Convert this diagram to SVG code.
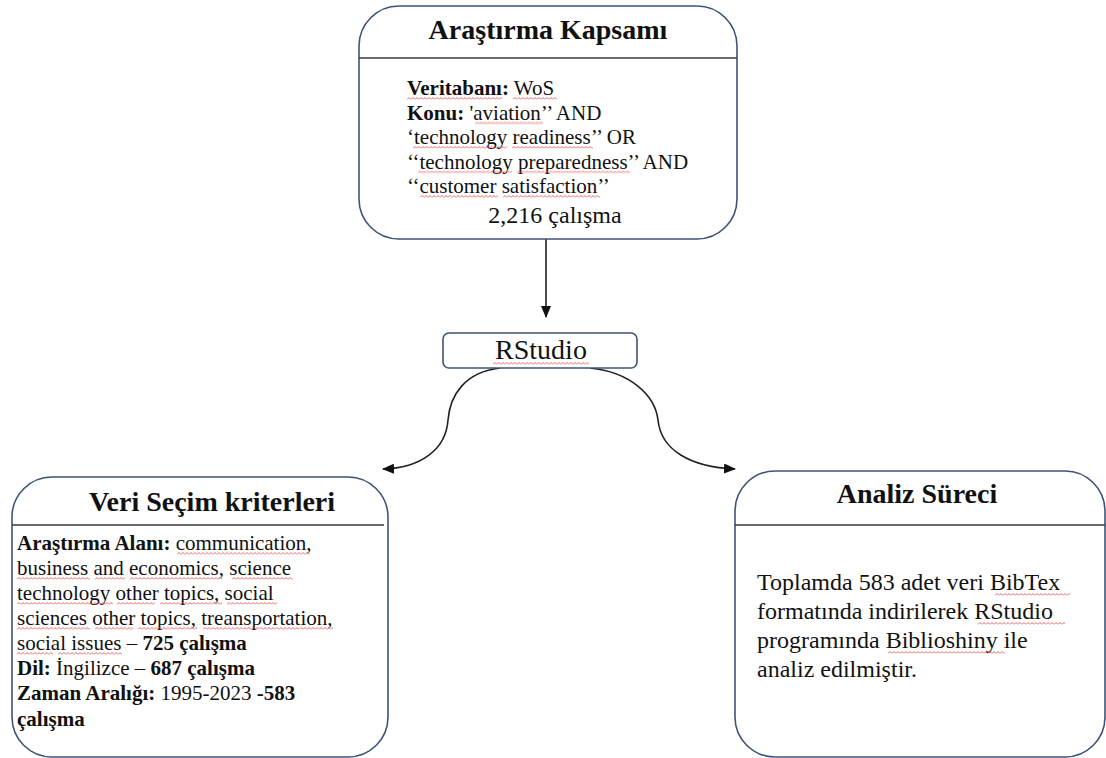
<svg xmlns="http://www.w3.org/2000/svg" width="1106" height="758" viewBox="0 0 1106 758">
<style>
  .box{fill:#fff;stroke:#3d5478;stroke-width:1.6}
  .div{stroke:#3a3a3a;stroke-width:1.6}
  .title{font-family:"Liberation Serif","Times New Roman",serif;font-weight:bold;font-size:28px;fill:#111;text-anchor:middle}
  .t21{font-family:"Liberation Serif","Times New Roman",serif;font-size:21px;fill:#111}
  .t24{font-family:"Liberation Serif","Times New Roman",serif;font-size:24px;fill:#111}
  .b{font-weight:bold}
  .con{fill:none;stroke:#222;stroke-width:1.6}
  .sq{fill:url(#wave)}
</style>
<defs>
  <marker id="ah" markerUnits="userSpaceOnUse" markerWidth="12" markerHeight="10" refX="11" refY="5" orient="auto">
    <path d="M0,0 L12,5 L0,10 Z" fill="#111"/>
  </marker>
  <pattern id="wave" patternUnits="userSpaceOnUse" width="4" height="3">
    <path d="M0,2.5 L2,0.5 L4,2.5" fill="none" stroke="#e23b3b" stroke-width="0.8"/>
  </pattern>
</defs>

<g id="connectors">
  <path class="con" d="M546,239 L546,317" marker-end="url(#ah)"/>
  <path class="con" d="M500,368 C465,372 450,395 448,420 C446,450 420,468 383,469" marker-end="url(#ah)"/>
  <path class="con" d="M590,368 C630,372 655,395 658,420 C661,450 690,467 735,469" marker-end="url(#ah)"/>
</g>

<g id="arastirma-kapsami">
  <rect class="box" x="359" y="6" width="378" height="233" rx="40" ry="40"/>
  <line class="div" x1="359" y1="58" x2="737" y2="58"/>
  <text class="title" x="548" y="39">Araştırma Kapsamı</text>
  <text class="t21" x="407" y="95"><tspan class="b">Veritabanı:</tspan> WoS</text>
  <text class="t21" x="407" y="119.5"><tspan class="b">Konu:</tspan> 'aviation’’ AND</text>
  <text class="t21" x="407" y="144">‘technology readiness’’ OR</text>
  <text class="t21" x="407" y="168.5">‘‘technology preparedness’’ AND</text>
  <text class="t21" x="407" y="193">‘‘customer satisfaction’’</text>
  <text class="t24" x="555" y="223" text-anchor="middle">2,216 çalışma</text>
</g>

<g id="rstudio">
  <rect class="box" x="443" y="333" width="194" height="35" rx="6" ry="6"/>
  <text class="t24" x="541" y="359" text-anchor="middle" style="font-size:28px">RStudio</text>
</g>

<g id="veri-secim-kriterleri">
  <rect class="box" x="12" y="477" width="376" height="280" rx="40" ry="40"/>
  <line class="div" x1="12" y1="525" x2="384" y2="525"/>
  <text class="title" x="212" y="511">Veri Seçim kriterleri</text>
  <text class="t21" x="17" y="550"><tspan class="b">Araştırma Alanı:</tspan> communication,</text>
  <text class="t21" x="17" y="575">business and economics, science</text>
  <text class="t21" x="17" y="600">technology other topics, social</text>
  <text class="t21" x="17" y="625">sciences other topics, treansportation,</text>
  <text class="t21" x="17" y="650">social issues – <tspan class="b">725 çalışma</tspan></text>
  <text class="t21" x="17" y="675"><tspan class="b">Dil:</tspan> İngilizce – <tspan class="b">687 çalışma</tspan></text>
  <text class="t21" x="17" y="700"><tspan class="b">Zaman Aralığı:</tspan> 1995-2023 <tspan class="b">-583</tspan></text>
  <text class="t21" x="17" y="726"><tspan class="b">çalışma</tspan></text>
</g>

<g id="analiz-sureci">
  <rect class="box" x="735" y="471" width="370" height="286" rx="40" ry="40"/>
  <line class="div" x1="735" y1="525" x2="1105" y2="525"/>
  <text class="title" x="917" y="503">Analiz Süreci</text>
  <text class="t24" x="757" y="590">Toplamda 583 adet veri BibTex</text>
  <text class="t24" x="757" y="619">formatında indirilerek RStudio</text>
  <text class="t24" x="757" y="648">programında Biblioshiny ile</text>
  <text class="t24" x="757" y="677">analiz edilmiştir.</text>
</g>

<g id="spellcheck-marks">
  <rect class="sq" width="95" height="3" transform="translate(407,97)"/>
  <rect class="sq" width="44" height="3" transform="translate(513,97)"/>
  <rect class="sq" width="68" height="3" transform="translate(475,121.5)"/>
  <rect class="sq" width="94" height="3" transform="translate(413,146)"/>
  <rect class="sq" width="81" height="3" transform="translate(512,146)"/>
  <rect class="sq" width="94" height="3" transform="translate(418,170.5)"/>
  <rect class="sq" width="113" height="3" transform="translate(517,170.5)"/>
  <rect class="sq" width="78" height="3" transform="translate(420,195)"/>
  <rect class="sq" width="97" height="3" transform="translate(503,195)"/>
  <rect class="sq" width="96" height="3" transform="translate(493,362)"/>
  <rect class="sq" width="133" height="3" transform="translate(177,552)"/>
  <rect class="sq" width="73" height="3" transform="translate(17,577)"/>
  <rect class="sq" width="30" height="3" transform="translate(95,577)"/>
  <rect class="sq" width="92" height="3" transform="translate(130,577)"/>
  <rect class="sq" width="61" height="3" transform="translate(232,577)"/>
  <rect class="sq" width="96" height="3" transform="translate(17,602)"/>
  <rect class="sq" width="38" height="3" transform="translate(117,602)"/>
  <rect class="sq" width="62" height="3" transform="translate(160,602)"/>
  <rect class="sq" width="50" height="3" transform="translate(227,602)"/>
  <rect class="sq" width="73" height="3" transform="translate(17,627)"/>
  <rect class="sq" width="38" height="3" transform="translate(95,627)"/>
  <rect class="sq" width="59" height="3" transform="translate(138,627)"/>
  <rect class="sq" width="130" height="3" transform="translate(203,627)"/>
  <rect class="sq" width="36" height="3" transform="translate(17,652)"/>
  <rect class="sq" width="64" height="3" transform="translate(58,652)"/>
  <rect class="sq" width="75" height="3" transform="translate(995,593)"/>
  <rect class="sq" width="87" height="3" transform="translate(978,622)"/>
  <rect class="sq" width="117" height="3" transform="translate(888,651)"/>
</g>
</svg>
